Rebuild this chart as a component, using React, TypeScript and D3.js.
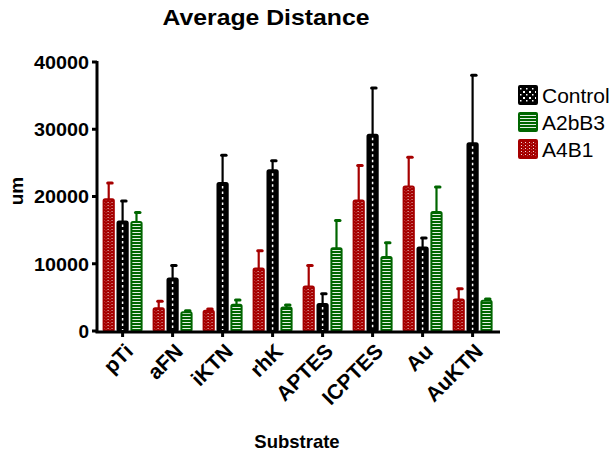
import React from "react";
import * as d3 from "d3";

// values (mean, and SD for the upper error bar)
const substrates = ["pTi", "aFN", "iKTN", "rhK", "APTES", "ICPTES", "Au", "AuKTN"];
const seriesOrder = ["A4B1", "Control", "A2bB3"];
const legendOrder = ["Control", "A2bB3", "A4B1"];
const controlMean = [16300, 7800, 22000, 23900, 4000, 29200, 12400, 27900];
const controlSD = [3100, 2000, 4200, 1500, 1600, 7000, 1500, 10200];
const a2bb3Mean = [16200, 2800, 3900, 3500, 12300, 11000, 17700, 4500];
const a2bb3SD = [1500, 300, 800, 450, 4200, 2200, 3800, 350];
const a4b1Mean = [19600, 3400, 3000, 9300, 6600, 19400, 21500, 4700];
const a4b1SD = [2500, 1100, 350, 2700, 3200, 5300, 4400, 1650];
const yTicks = [0, 10000, 20000, 30000, 40000];

const colors: Record<string, string> = {
  Control: "#000000",
  A2bB3: "#006600",
  A4B1: "#a60000",
};

const dataFor: Record<string, { mean: number[]; sd: number[] }> = {
  Control: { mean: controlMean, sd: controlSD },
  A2bB3: { mean: a2bb3Mean, sd: a2bb3SD },
  A4B1: { mean: a4b1Mean, sd: a4b1SD },
};

const W = 613;
const H = 458;
const font = "'Liberation Sans', Arial, Helvetica, sans-serif";

export default function App() {
  const y = d3.scaleLinear().domain([0, 40000]).range([331, 62]);
  const x0 = d3.scaleBand().domain(substrates).range([97.6, 497.6]);
  const x1 = d3.scaleBand().domain(seriesOrder).range([-20, 20]).paddingInner(0.12);
  const bw = x1.bandwidth();

  const fillFor = (s: string) =>
    s === "Control" ? colors.Control : s === "A2bB3" ? "url(#stripes)" : "url(#dots)";

  return (
    <svg width={W} height={H} style={{ position: "absolute", left: 0, top: 0 }} fontFamily={font}>
      <defs>
        <pattern id="dots" patternUnits="userSpaceOnUse" width={4} height={3}>
          <rect width={4} height={3} fill={colors.A4B1} />
          <rect x={1} y={1} width={1} height={1} fill="#fff" opacity={0.85} />
          <rect x={3} y={2.5} width={1} height={0.5} fill="#fff" opacity={0.5} />
        </pattern>
        <pattern id="stripes" patternUnits="userSpaceOnUse" width={4} height={3}>
          <rect width={4} height={3} fill={colors.A2bB3} />
          <rect x={0} y={1} width={4} height={1} fill="#fff" opacity={0.9} />
        </pattern>
        <pattern id="checker" patternUnits="userSpaceOnUse" width={6} height={6}>
          <rect width={6} height={6} fill="#000" />
          <rect x={1} y={1} width={2} height={2} fill="#fff" />
          <rect x={4} y={4} width={1.5} height={1.5} fill="#fff" />
        </pattern>
      </defs>

      <text x={266} y={25} textAnchor="middle" fontSize={22} fontWeight="bold" textLength={207} lengthAdjust="spacingAndGlyphs">
        Average Distance
      </text>

      {/* bars */}
      {substrates.map((sub, i) => (
        <g key={sub} transform={`translate(${x0(sub)! + x0.bandwidth() / 2},0)`}>
          {seriesOrder.map((s) => {
            const m = dataFor[s].mean[i];
            const sd = dataFor[s].sd[i];
            const bx = x1(s)!;
            const cx = bx + bw / 2;
            const c = colors[s];
            return (
              <g key={s}>
                <line x1={cx} x2={cx} y1={y(m)} y2={y(m + sd)} stroke={c} strokeWidth={2.2} />
                <line x1={cx - 1} x2={cx + 3.5} y1={y(m + sd) + 0.5} y2={y(m + sd) + 0.5} stroke={c} strokeWidth={3} strokeLinecap="round" />
                <rect
                  x={bx + 1}
                  y={y(m)}
                  width={bw - 2}
                  height={y(0) - y(m)}
                  fill={fillFor(s)}
                  stroke={c}
                  strokeWidth={2}
                  rx={1.5}
                />
                {s === "Control" && (
                  <line
                    x1={cx}
                    x2={cx}
                    y1={y(m) + 3}
                    y2={y(0) - 1}
                    stroke="#fff"
                    strokeWidth={1.5}
                    strokeDasharray="2.5 3"
                  />
                )}
              </g>
            );
          })}
        </g>
      ))}

      {/* y axis */}
      <line x1={97} x2={97} y1={y(40000) - 1} y2={y(0) + 1.5} stroke="#000" strokeWidth={3} />
      {yTicks.map((t) => (
        <g key={t}>
          <line x1={92} x2={97} y1={y(t)} y2={y(t)} stroke="#000" strokeWidth={3} />
          <text x={89} y={y(t)} dy="0.36em" textAnchor="end" fontSize={19} fontWeight="bold" textLength={t === 0 ? undefined : 55} lengthAdjust="spacingAndGlyphs">
            {t}
          </text>
        </g>
      ))}

      {/* x axis */}
      <line x1={95.5} x2={500} y1={y(0) + 1} y2={y(0) + 1} stroke="#000" strokeWidth={3} />
      {substrates.map((sub) => {
        const cx = x0(sub)! + x0.bandwidth() / 2;
        return (
          <g key={sub}>
            <line x1={cx} x2={cx} y1={y(0)} y2={y(0) + 6} stroke="#000" strokeWidth={3} />
            <text
              transform={`translate(${cx + 1},${y(0) + 11}) rotate(-45)`}
              textAnchor="end"
              dy="0.72em"
              fontSize={21}
              fontWeight="bold"
            >
              {sub}
            </text>
          </g>
        );
      })}

      <text x={297} y={448} textAnchor="middle" fontSize={18.5} fontWeight="bold">
        Substrate
      </text>
      <text transform={`translate(23,191) rotate(-90)`} textAnchor="middle" fontSize={19} fontWeight="bold">
        um
      </text>

      {/* legend */}
      {legendOrder.map((s, i) => {
        const ly = 86 + i * 27;
        const sw = s === "Control" ? "url(#checker)" : fillFor(s);
        return (
          <g key={s}>
            <rect x={519} y={ly} width={18} height={18} fill={sw} stroke={colors[s]} strokeWidth={2} rx={1} />
            <text x={542} y={ly + 17} fontSize={21}>
              {s}
            </text>
          </g>
        );
      })}
    </svg>
  );
}
